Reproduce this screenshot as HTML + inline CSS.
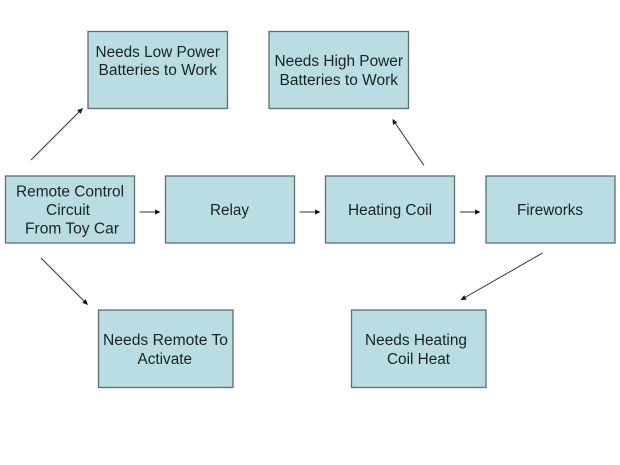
<!DOCTYPE html>
<html>
<head>
<meta charset="utf-8">
<style>
html,body{margin:0;padding:0;background:#fff;width:620px;height:465px;overflow:hidden}
svg{display:block}
text{font-family:"Liberation Sans",sans-serif;font-size:15.5px;fill:#1a2224}
rect{fill:#b9dde3;stroke:#5d6e72;stroke-width:1.3}
line{stroke:#333;stroke-width:1}
polygon{fill:#111}
</style>
</head>
<body>
<svg width="620" height="465" viewBox="0 0 620 465" xmlns="http://www.w3.org/2000/svg">
<rect x="88" y="31.5" width="139.5" height="77"/>
<rect x="269" y="31.5" width="139.5" height="77"/>
<rect x="5.5" y="176" width="129" height="67"/>
<rect x="165.5" y="176" width="129" height="67"/>
<rect x="325.5" y="176" width="129" height="67"/>
<rect x="486" y="176" width="129" height="67"/>
<rect x="98.5" y="310" width="134.5" height="77.5"/>
<rect x="351.5" y="310" width="134.5" height="77.5"/>

<text x="95.5" y="57" textLength="124.5" lengthAdjust="spacingAndGlyphs">Needs Low Power</text>
<text x="98.5" y="75" textLength="118.5" lengthAdjust="spacingAndGlyphs">Batteries to Work</text>
<text x="274.5" y="66" textLength="128.5" lengthAdjust="spacingAndGlyphs">Needs High Power</text>
<text x="279.5" y="85" textLength="118.5" lengthAdjust="spacingAndGlyphs">Batteries to Work</text>
<text x="16" y="196.5" textLength="108" lengthAdjust="spacingAndGlyphs">Remote Control</text>
<text x="46" y="215" textLength="44" lengthAdjust="spacingAndGlyphs">Circuit</text>
<text x="25" y="233.5" textLength="94" lengthAdjust="spacingAndGlyphs">From Toy Car</text>
<text x="210" y="215" textLength="39" lengthAdjust="spacingAndGlyphs">Relay</text>
<text x="348" y="215" textLength="84" lengthAdjust="spacingAndGlyphs">Heating Coil</text>
<text x="517" y="215" textLength="66" lengthAdjust="spacingAndGlyphs">Fireworks</text>
<text x="103" y="345" textLength="125" lengthAdjust="spacingAndGlyphs">Needs Remote To</text>
<text x="137.5" y="364" textLength="54.5" lengthAdjust="spacingAndGlyphs">Activate</text>
<text x="365" y="345" textLength="102" lengthAdjust="spacingAndGlyphs">Needs Heating</text>
<text x="387" y="364" textLength="63" lengthAdjust="spacingAndGlyphs">Coil Heat</text>

<line x1="31" y1="160" x2="80" y2="111"/>
<polygon points="83,108 80.8,113.8 77.2,110.2"/>
<line x1="139.5" y1="212" x2="156" y2="212"/>
<polygon points="160.5,212 155,209.5 155,214.5"/>
<line x1="299.5" y1="212" x2="316" y2="212"/>
<polygon points="320.5,212 315,209.5 315,214.5"/>
<line x1="460" y1="212" x2="476" y2="212"/>
<polygon points="480.5,212 475,209.5 475,214.5"/>
<line x1="424" y1="165.5" x2="394.5" y2="122"/>
<polygon points="392.5,119 393,125 397.2,122.2"/>
<line x1="41" y1="258" x2="85" y2="302"/>
<polygon points="88,305 85.8,299.2 82.2,302.8"/>
<line x1="542.5" y1="253" x2="464" y2="298"/>
<polygon points="460.5,300 466.7,299.6 464.2,295.2"/>
</svg>
</body>
</html>
